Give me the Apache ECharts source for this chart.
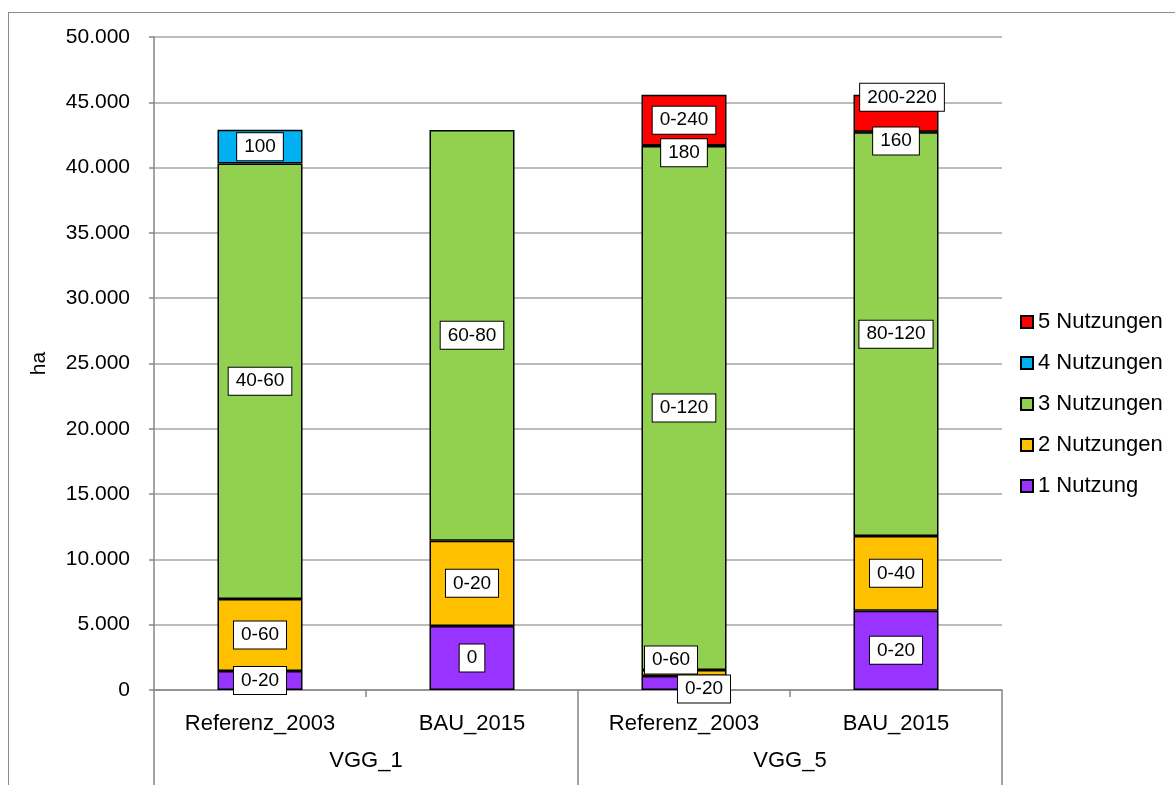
<!DOCTYPE html>
<html>
<head>
<meta charset="utf-8">
<script src="https://cdn.jsdelivr.net/npm/echarts@6/dist/echarts.min.js"></script>
<style>
    body { margin: 0; background: #fff; }
    #frame {
        position: absolute; left: 8px; top: 12px; width: 1200px; height: 800px;
        border-left: 1px solid #8c8c8c; border-top: 1px solid #8c8c8c;
    }
    #myChart { position: absolute; left: 0; top: 0; width: 1175px; height: 785px; }
</style>
</head>
<body>
<div id="frame"></div>
<div id="myChart"></div>
<script>
    // Kategorien
    let categories = ['Referenz_2003', 'BAU_2015', 'Referenz_2003', 'BAU_2015'];
    let groups = ['VGG_1', 'VGG_5'];

    // Flaechen in ha (null = kein Segment)
    let nutzung1 = [1450, 4900, 1070, 6070];
    let nutzung2 = [5520, 6530, 460, 5720];
    let nutzung3 = [33340, 31450, 40120, 30910];
    let nutzung4 = [2580, null, 40, 40];
    let nutzung5 = [null, null, 3890, 2840];

    // Beschriftungen der Segmente
    let text1 = ['0-20', '0', '0-20', '0-20'];
    let text2 = ['0-60', '0-20', '0-60', '0-40'];
    let text3 = ['40-60', '60-80', '0-120', '80-120'];
    let text4 = ['100', '', '180', '160'];
    let text5 = ['', '', '0-240', '200-220'];

    let yTicks = [0, 50000, 5000];  // min, max, interval

    let myChart = echarts.init(document.getElementById('myChart'));

    const font = 'Liberation Sans, Arial, sans-serif';
    const gray = '#868686';

    // Verschiebung einzelner Labels (Pixel), sonst mittig im Segment
    const offsets = {
        '2 Nutzungen': {2: [-13, -13]},
        '1 Nutzung': {2: [20, 6]},
        '4 Nutzungen': {2: [0, 7], 3: [0, 9]},
        '5 Nutzungen': {3: [6, -16]}
    };

    function makeSeries(name, values, texts, color) {
        return {
            name: name,
            type: 'bar',
            stack: 'total',
            barWidth: 85,
            xAxisIndex: 0,
            yAxisIndex: 0,
            itemStyle: {color: color, borderColor: '#000', borderWidth: 1.5},
            data: values.map(function (v, i) {
                let off = (offsets[name] && offsets[name][i]) || [0, 0];
                return {
                    value: v,
                    label: {show: texts[i] !== '', offset: off}
                };
            }),
            label: {
                position: 'inside',
                formatter: function (p) { return texts[p.dataIndex]; },
                color: '#000',
                fontFamily: font,
                fontSize: 19,
                lineHeight: 19,
                backgroundColor: '#fff',
                borderColor: '#000',
                borderWidth: 1,
                padding: [5, 7, 3, 7]
            },
            emphasis: {disabled: true}
        };
    }

    myChart.setOption({
        animation: false,
        backgroundColor: 'transparent',
        grid: [
            {left: 154, right: 173, top: 37, bottom: 95},
            {left: 154, right: 173, top: 37, bottom: 95}
        ],
        legend: {
            orient: 'vertical',
            left: 1015,
            top: 306,
            itemWidth: 12,
            itemHeight: 12,
            itemGap: 19,
            icon: 'rect',
            textStyle: {fontFamily: font, fontSize: 22, color: '#000'},
            data: ['5 Nutzungen', '4 Nutzungen', '3 Nutzungen', '2 Nutzungen', '1 Nutzung']
        },
        xAxis: [
            {
                type: 'category',
                gridIndex: 0,
                data: categories,
                axisLine: {lineStyle: {color: gray, width: 1.5}},
                axisTick: {show: true, length: 7, lineStyle: {color: gray, width: 1.5}},
                axisLabel: {margin: 23, color: '#000', fontFamily: font, fontSize: 22}
            },
            {
                type: 'category',
                gridIndex: 1,
                data: groups,
                axisLine: {show: false},
                axisTick: {show: true, length: 95, lineStyle: {color: gray, width: 1.5}},
                axisLabel: {margin: 60, color: '#000', fontFamily: font, fontSize: 22}
            }
        ],
        yAxis: [
            {
                type: 'value',
                gridIndex: 0,
                min: yTicks[0],
                max: yTicks[1],
                interval: yTicks[2],
                name: 'ha',
                nameLocation: 'middle',
                nameGap: 104,
                nameRotate: 90,
                nameTextStyle: {fontFamily: font, fontSize: 21, color: '#000'},
                axisLine: {show: true, lineStyle: {color: gray, width: 1.5}},
                axisTick: {show: true, length: 5, lineStyle: {color: gray, width: 1.5}},
                axisLabel: {
                    margin: 24,
                    color: '#000',
                    fontFamily: font,
                    fontSize: 21,
                    formatter: function (v) { return v.toString().replace(/\B(?=(\d{3})+(?!\d))/g, '.'); }
                },
                splitLine: {lineStyle: {color: '#a6a6a6', width: 1.5}}
            },
            {type: 'value', gridIndex: 1, show: false, min: yTicks[0], max: yTicks[1]}
        ],
        series: [
            makeSeries('1 Nutzung', nutzung1, text1, '#9933ff'),
            makeSeries('2 Nutzungen', nutzung2, text2, '#ffc000'),
            makeSeries('3 Nutzungen', nutzung3, text3, '#92d050'),
            makeSeries('4 Nutzungen', nutzung4, text4, '#00b0f0'),
            makeSeries('5 Nutzungen', nutzung5, text5, '#ff0000')
        ]
    });

    window.addEventListener('resize', function () {
        myChart.resize();
    });
</script>
</body>
</html>
